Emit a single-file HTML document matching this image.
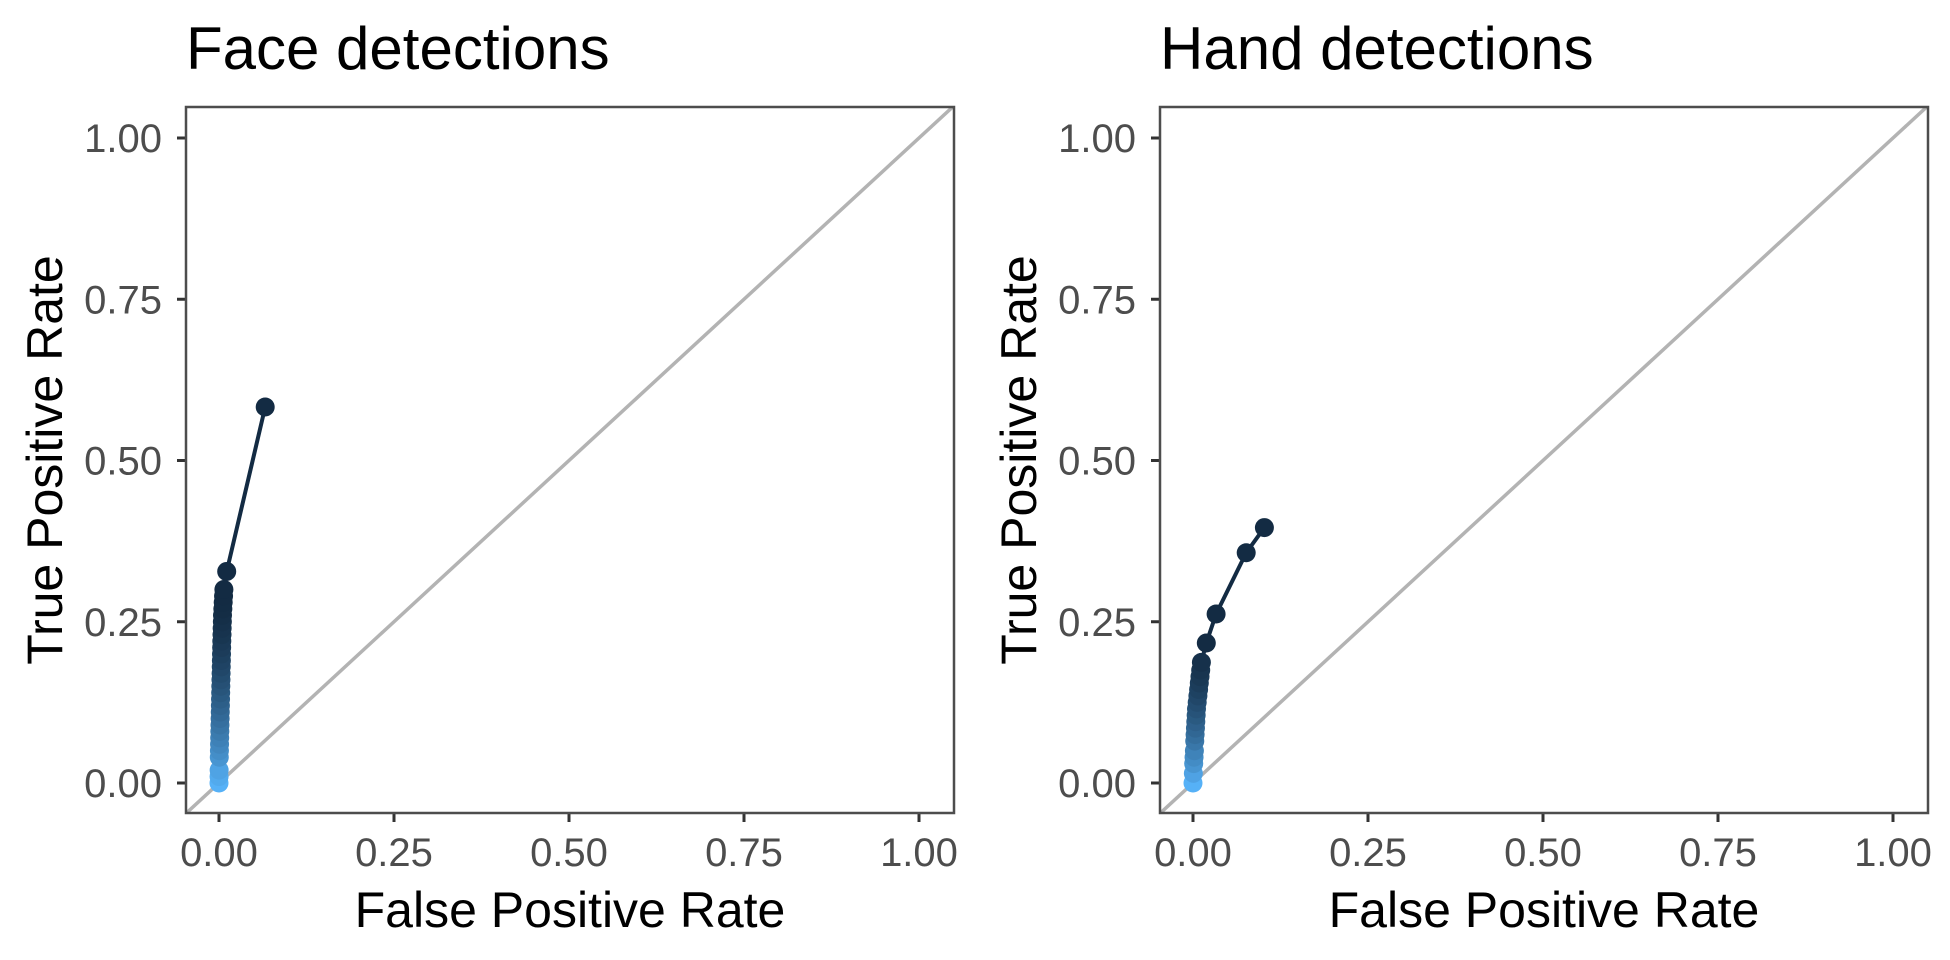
<!DOCTYPE html>
<html><head><meta charset="utf-8"><style>
html,body{margin:0;padding:0;background:#fff;width:1950px;height:960px;overflow:hidden}
svg{display:block;font-family:"Liberation Sans",Arial,sans-serif}
</style></head><body>
<svg id="chart" width="1950" height="960" viewBox="0 0 1950 960"></svg>
<script>
const faceFpr = [0.066,0.011,0.007,0.0065,0.006,0.0055,0.005,0.0048,0.0045,0.0043,0.004,0.0038,0.0036,0.0034,0.0032,0.003,0.0028,0.0026,0.0024,0.0022,0.002,0.0018,0.0016,0.0014,0.0012,0.001,0.0008,0.0006,0.0004,0.0002,0.0001,0];
const faceTpr = [0.583,0.328,0.300,0.29,0.28,0.27,0.26,0.25,0.24,0.23,0.22,0.21,0.20,0.19,0.18,0.17,0.16,0.15,0.14,0.13,0.12,0.11,0.10,0.09,0.08,0.07,0.06,0.05,0.04,0.02,0.01,0];
const handFpr = [0.102,0.076,0.033,0.019,0.012,0.011,0.010,0.009,0.008,0.007,0.006,0.005,0.0045,0.004,0.0035,0.003,0.0025,0.002,0.0015,0.001,0.0005,0];
const handTpr = [0.396,0.357,0.262,0.217,0.187,0.175,0.165,0.155,0.145,0.135,0.125,0.115,0.105,0.095,0.085,0.075,0.065,0.05,0.04,0.03,0.015,0];
const xTicks = [0,0.25,0.5,0.75,1];
const yTicks = [0,0.25,0.5,0.75,1];
const xTickLabels = ["0.00","0.25","0.50","0.75","1.00"];
const yTickLabels = ["0.00","0.25","0.50","0.75","1.00"];
const panelTitles = ["Face detections","Hand detections"];

const NS="http://www.w3.org/2000/svg";
const svg=document.getElementById('chart');
function mk(tag,attrs,parent){const e=document.createElementNS(NS,tag);for(const k in attrs)e.setAttribute(k,attrs[k]);(parent||svg).appendChild(e);return e;}
function lerpColor(t){const a=[0x13,0x2B,0x43],b=[0x56,0xB1,0xF7];return 'rgb('+a.map((v,i)=>Math.round(v+(b[i]-v)*t)).join(',')+')';}

function panel(off,title,fpr,tpr,key){
  const L=186+off,R=954+off,T=107,B=813;
  const sx=v=>219+off+v*700, sy=v=>783-v*645;
  const g=mk('g',{});
  
  
  const t=mk('text',{x:L,y:69,'font-size':60,fill:'#000'},g);t.textContent=title;
  
  
  const cp='clip'+key;
  const cl=mk('clipPath',{id:cp},g);mk('rect',{x:L,y:T,width:R-L,height:B-T},cl);
  const d=mk('line',{x1:sx(-0.1),y1:sy(-0.1),x2:sx(1.1),y2:sy(1.1),stroke:'#b3b3b3','stroke-width':3.5,'clip-path':'url(#'+cp+')'},g);
  
  
  xTicks.forEach((v,i)=>{
    mk('line',{x1:sx(v),x2:sx(v),y1:B,y2:B+9,stroke:'#333','stroke-width':3},g);
    const tx=mk('text',{x:sx(v),y:866,'font-size':40,fill:'#4d4d4d','text-anchor':'middle'},g);tx.textContent=xTickLabels[i];
    
    
  });
  yTicks.forEach((v,i)=>{
    mk('line',{x1:L-9,x2:L,y1:sy(v),y2:sy(v),stroke:'#333','stroke-width':3},g);
    const ty=mk('text',{x:162+off,y:sy(v)+14,'font-size':40,fill:'#4d4d4d','text-anchor':'end'},g);ty.textContent=yTickLabels[i];
    
    
  });
  const xt=mk('text',{x:(L+R)/2,y:927,'font-size':50,fill:'#000','text-anchor':'middle'},g);xt.textContent='False Positive Rate';
  
  
  const yt=mk('text',{x:0,y:0,'font-size':50,fill:'#000','text-anchor':'middle',transform:'translate('+(62+off)+','+((T+B)/2)+') rotate(-90)'},g);yt.textContent='True Positive Rate';
  
  
  const n=fpr.length;
  const col=i=>i<3?lerpColor(0):lerpColor(Math.min(1,Math.pow(1-tpr[i]/tpr[3],1.6)));
  for(let i=0;i<n-1;i++){
    const s=mk('line',{x1:sx(fpr[i]),y1:sy(tpr[i]),x2:sx(fpr[i+1]),y2:sy(tpr[i+1]),stroke:col(i+1),'stroke-width':4,'stroke-linecap':'round'},g);
    
    
  }
  for(let i=n-1;i>=0;i--){
    const c=mk('circle',{cx:sx(fpr[i]),cy:sy(tpr[i]),r:9.5,fill:col(i)},g);
    
    
  }
  const fr=mk('rect',{x:L,y:T,width:R-L,height:B-T,fill:'none',stroke:'#4d4d4d','stroke-width':2.5},g);
  
  
}
panel(0,panelTitles[0],faceFpr,faceTpr,'face');
panel(974,panelTitles[1],handFpr,handTpr,'hand');
</script>
</body></html>
